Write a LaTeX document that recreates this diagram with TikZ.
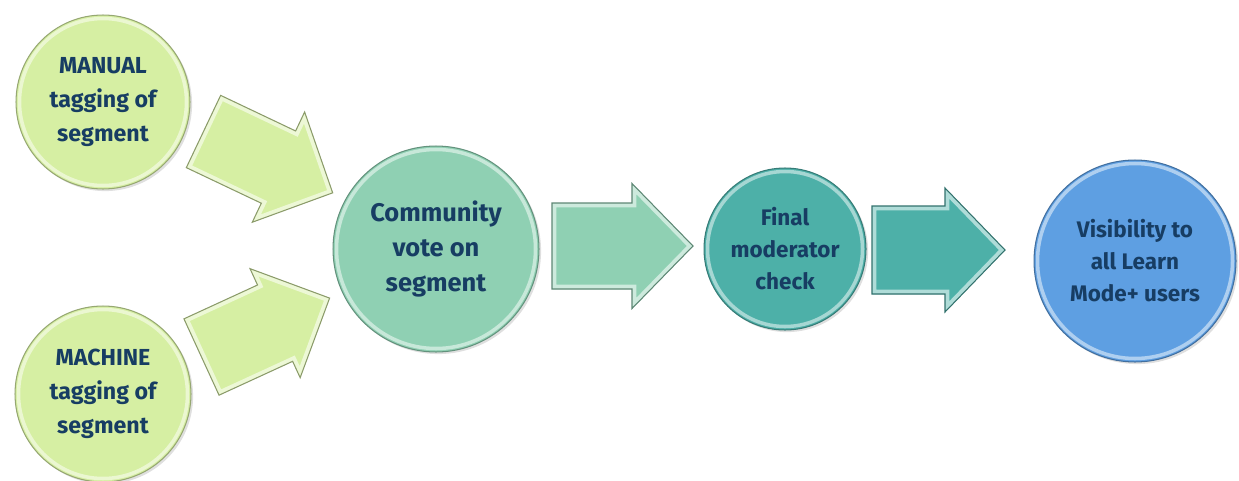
\documentclass[tikz,border=0pt]{standalone}
\usepackage{fontspec}
\setmainfont{Fira Sans}
\usetikzlibrary{shadows}

\definecolor{leaf}{HTML}{D6EFA3}
\definecolor{mint}{HTML}{8FD0B3}
\definecolor{tealc}{HTML}{4DB0A8}
\definecolor{sky}{HTML}{5E9FE2}
\definecolor{ink}{HTML}{173D63}

\tikzset{
  disc/.style={circle, inner sep=0pt, align=center, text=ink,
    draw=#1!70!black, line width=0.6pt, fill=#1,
    drop shadow={shadow xshift=1.2pt, shadow yshift=-1.2pt, opacity=0.25}},
  bigtext/.style={font=\fontsize{14.5}{20.2}\selectfont\bfseries},
  midtext/.style={font=\fontsize{13.2}{19.3}\selectfont\bfseries},
  smalltext/.style={font=\fontsize{12.8}{18.2}\selectfont\bfseries},
}

\begin{document}
\begin{tikzpicture}[x=0.02cm, y=-0.02cm]
\useasboundingbox (0,0) rectangle (1239,480);

% block arrow outlines (tail at origin, pointing along local x)
\begin{scope}[shift={(203.5,131.5)}, rotate=-25.4]
  \path[save path=\arrowA] (0,-40) -- (83,-40) -- (83,-61) -- (143,0) -- (83,61) -- (83,40) -- (0,40) -- cycle;
\end{scope}
\begin{scope}[shift={(201.5,357)}, rotate=24.7]
  \path[save path=\arrowB] (0,-42) -- (81,-42) -- (81,-60) -- (141,0) -- (81,60) -- (81,42) -- (0,42) -- cycle;
\end{scope}
\begin{scope}[shift={(552,246)}]
  \path[save path=\arrowC] (0,-43) -- (80,-43) -- (80,-62.5) -- (141,0) -- (80,62.5) -- (80,43) -- (0,43) -- cycle;
\end{scope}
\begin{scope}[shift={(872,250)}]
  \path[save path=\arrowD] (0,-44) -- (73,-44) -- (73,-62) -- (133,0) -- (73,62) -- (73,44) -- (0,44) -- cycle;
\end{scope}

% bevelled block arrows
\foreach \p/\c in {\arrowA/leaf, \arrowB/leaf, \arrowC/mint, \arrowD/tealc}{
  \fill[\c, use path=\p];
  \begin{scope}
    \path[clip, use path=\p];
    \draw[\c!45!white, line width=5pt, use path=\p];
  \end{scope}
  \draw[\c!65!black, line width=0.6pt, use path=\p];
}

% process steps
\node[disc=leaf, midtext, minimum size=3.48cm] (man) at (103,102) {MANUAL\\tagging of\\segment};
\node[disc=leaf, midtext, minimum size=3.52cm] (mac) at (103,394) {MACHINE\\tagging of\\segment};
\node[disc=mint, bigtext, minimum size=4.12cm] (com) at (436,249) {Community\\vote on\\segment};
\node[disc=tealc, smalltext, minimum size=3.24cm] (fin) at (785,249) {Final\\moderator\\check};
\node[disc=sky, smalltext, minimum size=4.04cm] (vis) at (1135,261) {Visibility to\\all Learn\\Mode+ users};

% light inner rims
\foreach \n/\r/\c in {man/87/leaf, mac/88/leaf, com/103/mint, fin/81/tealc, vis/101/sky}{
  \draw[\c!50!white, line width=2pt] (\n.center) circle[radius=\r-3.5];
}
\end{tikzpicture}
\end{document}
